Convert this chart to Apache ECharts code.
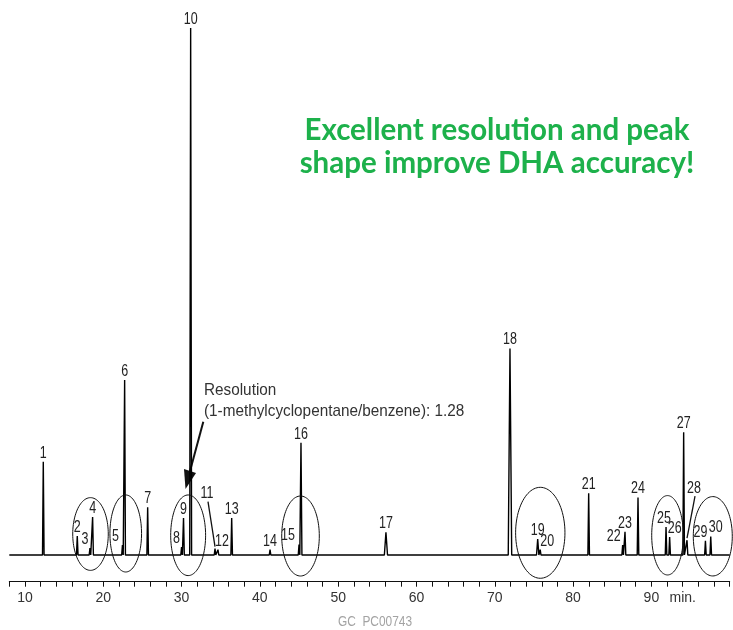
<!DOCTYPE html>
<html>
<head>
<meta charset="utf-8">
<script src="https://cdn.jsdelivr.net/npm/echarts@6/dist/echarts.min.js"></script>
<style>html,body{margin:0;padding:0;background:#fff;}#c{width:733px;height:630px;}</style>
</head>
<body>
<div id="c"></div>
<script>
// ---- data ----
const peakNumbers = ['1','2','3','4','5','6','7','8','9','10','11','12','13','14','15','16','17','18','19','20','21','22','23','24','25','26','27','28','29','30'];
const retentionTimes = [12.34, 16.68, 18.30, 18.64, 22.45, 22.73, 25.67, 30.00, 30.25, 31.16, 34.27, 34.65, 36.40, 41.30, 45.00, 45.25, 56.10, 71.94, 75.48, 75.80, 81.99, 86.33, 86.63, 88.29, 91.87, 92.33, 94.12, 94.55, 96.90, 97.58];
const peakHeights = [17.7, 3.6, 1.3, 7.2, 1.9, 33.2, 9.05, 1.5, 7.0, 100, 1.2, 1.0, 7.0, 1.0, 2.0, 21.3, 4.3, 39.2, 3.0, 1.0, 11.7, 1.9, 4.4, 10.9, 5.3, 3.4, 23.3, 2.8, 2.7, 3.5];
const peakHalfWidths = [0.1,0.1,0.1,0.1,0.1,0.1,0.1,0.1,0.1,0.12,0.1,0.1,0.1,0.1,0.1,0.12,0.2,0.22,0.15,0.1,0.1,0.1,0.1,0.1,0.1,0.1,0.1,0.1,0.1,0.1];
const xTickLabels = ['10','20','30','40','50','60','70','80','90'];
const timeUnitLabel = 'min.';
// circled groups: [centre time, centre value, half-width (min), half-height (value)]
const circledGroups = [
  [18.37, 3.98, 2.27, 6.90],
  [22.87, 4.08, 2.02, 7.31],
  [30.84, 3.74, 2.23, 7.65],
  [45.19, 3.60, 2.40, 7.59],
  [75.81, 4.21, 3.15, 8.63],
  [92.06, 3.74, 2.02, 7.53],
  [97.84, 3.55, 2.49, 7.53]
];
const headline = ['Excellent resolution and peak', 'shape improve DHA accuracy!'];
const noteLines = ['Resolution', '(1-methylcyclopentane/benzene): 1.28'];
const footer = 'GC  PC00743';

// ---- styles (label offsets in px, leader lines) ----
const labelOffsets = {2:[-5,0], 4:[-7,0], 7:[-5,0], 11:[4,0], 14:[-11,0], 19:[7,0], 21:[-9,0], 24:[-2,0], 25:[5,0], 28:[-5,0], 29:[5,0]};
const leaderLabels = {10:[-8,-55], 27:[7,-52]};

// chromatogram trace built from the peak table
const order = retentionTimes.map((t,i)=>i).sort((a,b)=>retentionTimes[a]-retentionTimes[b]);
const trace = [[8,0]];
order.forEach(i=>{
  const t = retentionTimes[i], w = peakHalfWidths[i];
  trace.push([t-w,0],[t,peakHeights[i]],[t+w,0]);
});
trace.push([100,0]);

const chart = echarts.init(document.getElementById('c'), null, {renderer:'canvas'});
const labelFont = '16px "Liberation Sans", sans-serif';
const narrow = 0.78;

chart.setOption({
  animation:false,
  backgroundColor:'#ffffff',
  grid:{left:9.3, right:3.3, top:28, bottom:48.3},
  xAxis:{
    type:'value', min:8, max:100, interval:2,
    axisLine:{onZero:false, lineStyle:{color:'#111', width:1}},
    axisTick:{length:5, lineStyle:{color:'#111', width:1}},
    splitLine:{show:false},
    axisLabel:{
      margin:9, color:'#333', fontSize:14, fontFamily:'"Liberation Sans", sans-serif',
      formatter:function(v){
        const s = String(Math.round(v));
        if (xTickLabels.indexOf(s) >= 0) return s;
        if (Math.round(v) === 94) return timeUnitLabel;
        return '';
      }
    }
  },
  yAxis:{type:'value', min:-5.07, max:100, show:false},
  series:[
    {
      type:'line', data:trace, showSymbol:false, symbol:'none',
      lineStyle:{color:'#000', width:1.4}, z:3, clip:false
    },
    {
      type:'custom', z:4, clip:false,
      data:circledGroups,
      renderItem:function(params, api){
        const c = api.coord([api.value(0), api.value(1)]);
        const s = api.size([api.value(2), api.value(3)]);
        const pts = [];
        for (let k=0;k<96;k++){
          const a = k/96*Math.PI*2;
          pts.push([c[0]+s[0]*Math.cos(a), c[1]+s[1]*Math.sin(a)]);
        }
        return {type:'polygon', shape:{points:pts}, style:{fill:'none', stroke:'#111', lineWidth:1}};
      }
    },
    {
      type:'custom', z:5, clip:false,
      data:retentionTimes.map((t,i)=>[t, peakHeights[i], i]),
      renderItem:function(params, api){
        const idx = api.value(2);
        const p = api.coord([api.value(0), api.value(1)]);
        const children = [];
        if (leaderLabels[idx]){
          const o = leaderLabels[idx];
          const lx = p[0]+o[0], ly = p[1]+o[1];
          children.push({type:'text', x:lx, y:ly, scaleX:narrow, style:{text:peakNumbers[idx], font:labelFont, fill:'#222', align:'center', verticalAlign:'middle'}});
          children.push({type:'line', shape:{x1:lx+1, y1:ly+8, x2:p[0], y2:p[1]-2}, style:{stroke:'#111', lineWidth:1.3}});
        } else {
          const o = labelOffsets[idx] || [0,0];
          children.push({type:'text', x:p[0]+o[0], y:p[1]-8.5+o[1], scaleX:narrow, style:{text:peakNumbers[idx], font:labelFont, fill:'#222', align:'center', verticalAlign:'middle'}});
        }
        return {type:'group', children:children};
      }
    }
  ],
  graphic:[
    {type:'text', x:497, y:130, style:{text:headline[0], font:'bold 29.5px Lato, "Open Sans", sans-serif', fill:'#1db14b', align:'center', verticalAlign:'middle'}},
    {type:'text', x:497, y:163, style:{text:headline[1], font:'bold 29.5px Lato, "Open Sans", sans-serif', fill:'#1db14b', align:'center', verticalAlign:'middle'}},
    {type:'text', x:204, y:390, scaleX:0.9, style:{text:noteLines[0], font:'17px "Liberation Sans", sans-serif', fill:'#333', align:'left', verticalAlign:'middle'}},
    {type:'text', x:204, y:411, scaleX:0.9, style:{text:noteLines[1], font:'17px "Liberation Sans", sans-serif', fill:'#333', align:'left', verticalAlign:'middle'}},
    {type:'line', shape:{x1:203.3, y1:421.7, x2:189.5, y2:473}, style:{stroke:'#111', lineWidth:2}},
    {type:'polygon', shape:{points:[[185.5,489],[184,469],[196,473]]}, style:{fill:'#111'}},
    {type:'text', x:375, y:622, scaleX:0.85, style:{text:footer, font:'14px "Liberation Sans", sans-serif', fill:'#a3a3a3', align:'center', verticalAlign:'middle'}}
  ]
});
</script>
</body>
</html>
